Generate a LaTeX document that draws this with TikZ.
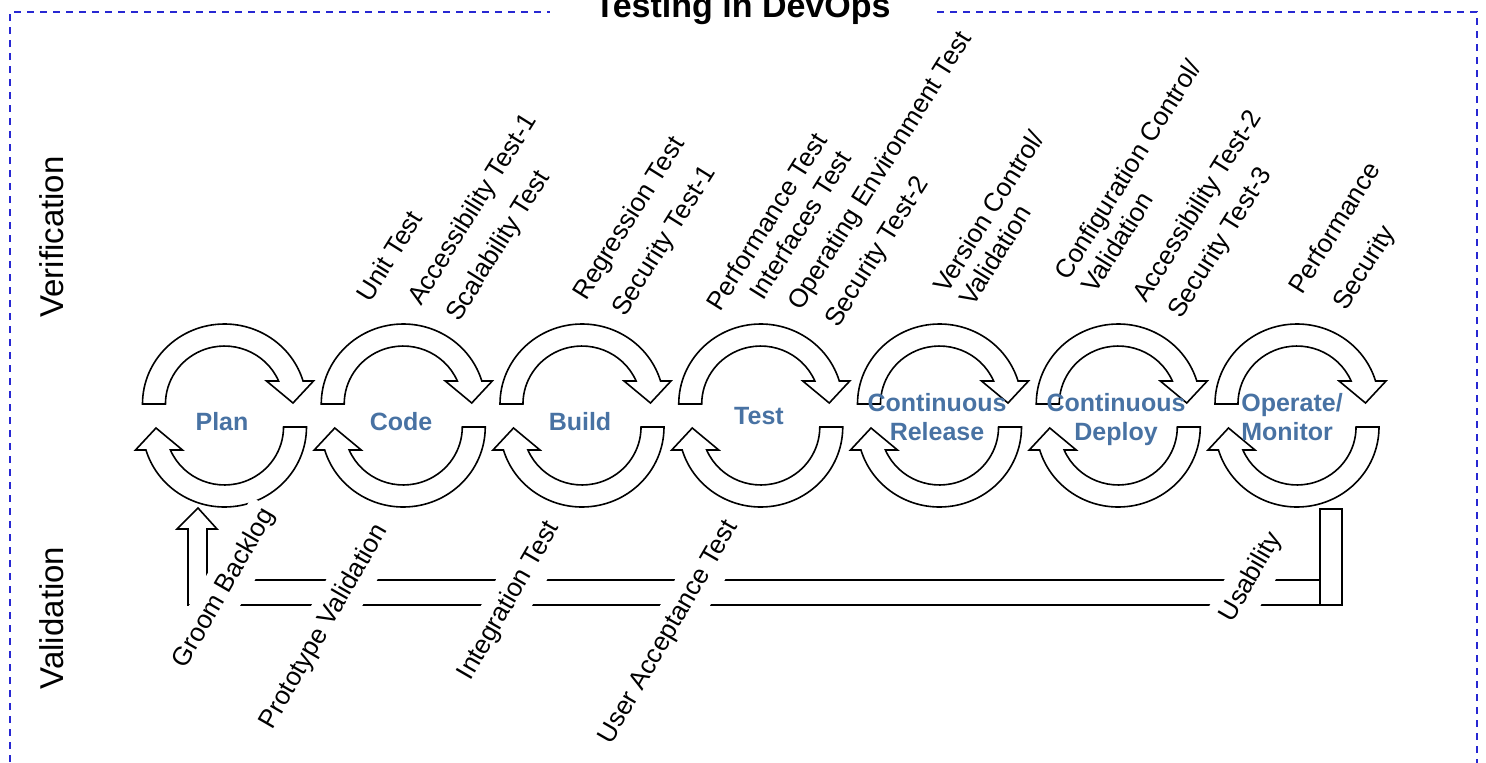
\documentclass[tikz,border=0pt]{standalone}
\usepackage{fontspec}
\setmainfont{Liberation Sans}
\definecolor{frameblue}{RGB}{40,40,210}
\definecolor{labelblue}{RGB}{72,114,163}
\begin{document}
\begin{tikzpicture}[x=1pt,y=-1pt,
  ring/.style={draw=black, fill=white, line width=1.6pt, line join=miter},
  conn/.style={draw=black, line width=1.6pt, line join=miter},
  lab/.style={font=\bfseries\fontsize{25}{29}\selectfont, text=labelblue, inner sep=0pt},
  toptext/.style={rotate=58, anchor=base west, inner sep=0pt, font=\fontsize{26}{30}\selectfont},
  bottext/.style={rotate=60, anchor=base west, fill=white, inner xsep=3pt, inner ysep=10pt, font=\fontsize{26}{30}\selectfont},
  side/.style={rotate=90, inner sep=0pt, font=\fontsize{33}{40}\selectfont}]
\useasboundingbox (0,0) rectangle (1486,763);
% frame
\draw[frameblue, dash pattern=on 7pt off 6pt, line width=1.5pt] (10,775) -- (10,12) -- (1477,12) -- (1477,775);
\node[fill=white, minimum width=385pt, inner ysep=6pt, anchor=base, font=\bfseries\fontsize{34}{40}\selectfont] (title) at (742.5,17) {Testing in DevOps};
% side labels
\node[side] (verif) at (52,237) {Verification};
\node[side] (valid) at (52,618) {Validation};
% cycles
\foreach \i in {0,...,6}{
  \begin{scope}[shift={(224.5+178.75*\i,415.5)}]
    \draw[ring] (-82,-11.5) arc[start angle=180, end angle=343.3, x radius=82, y radius=80]
      -- (89,-34.5) -- (68.5,-12.5) -- (42,-34.5) -- (54.1,-34.5)
      arc[start angle=336.6, end angle=180, x radius=59, y radius=58] -- cycle;
    \draw[ring, rotate=180] (-82,-11.5) arc[start angle=180, end angle=343.3, x radius=82, y radius=80]
      -- (89,-34.5) -- (68.5,-12.5) -- (42,-34.5) -- (54.1,-34.5)
      arc[start angle=336.6, end angle=180, x radius=59, y radius=58] -- cycle;
  \end{scope}
}
% feedback connector
\coordinate (barTL) at (1320,509);
\coordinate (barTR) at (1342,509);
\draw[conn] (1320,580) -- (207,580) -- (207,529) -- (217,529) -- (198,508) -- (177,529) -- (188,529)
  -- (188,605) -- (1342,605) -- (barTR) -- (barTL) -- cycle;
\draw[conn] (1320,580) -- (1320,605);
% validation labels
\node[bottext] (b1) at (184,672) {Groom Backlog};
\node[bottext] (b2) at (271,733) {Prototype Validation};
\node[bottext] (b3) at (469,684) {Integration Test};
\node[bottext] (b4) at (610,748) {User Acceptance Test};
\node[bottext] (b5) at (1231,626) {Usability};
% stage labels
\node[lab, anchor=base] (plan) at (222,430) {Plan};
\node[lab, anchor=base] (code) at (401,430) {Code};
\node[lab, anchor=base] (build) at (580,430) {Build};
\node[lab, anchor=base] (test) at (759,424) {Test};
\node[lab, align=center] (crel) at (937,417.5) {Continuous\\Release};
\node[lab, align=center] (cdep) at (1116,420) {Continuous\\Deploy};
\node[lab, align=left] (opmon) at (1292,417.5) {Operate/\\Monitor};
% verification labels
\node[toptext] (t1) at (370,304) {Unit Test};
\node[toptext] (t2) at (421,307) {Accessibility Test-1};
\node[toptext] (t3) at (459,323) {Scalability Test};
\node[toptext] (t4) at (586,302) {Regression Test};
\node[toptext] (t5) at (625,318) {Security Test-1};
\node[toptext] (t6) at (720,313) {Performance Test};
\node[toptext] (t7) at (763,302) {Interfaces Test};
\node[toptext] (t8) at (801,312) {Operating Environment Test};
\node[toptext] (t9) at (838,329) {Security Test-2};
\node[toptext] (t10) at (947,295) {Version Control/};
\node[toptext] (t11) at (973,308) {Validation};
\node[toptext] (t12) at (1068,282) {Configuration Control/};
\node[toptext] (t13) at (1095,295) {Validation};
\node[toptext] (t14) at (1146,304) {Accessibility Test-2};
\node[toptext] (t15) at (1181,320) {Security Test-3};
\node[toptext] (t16) at (1302,296) {Performance};
\node[toptext] (t17) at (1346,312) {Security};
\end{tikzpicture}
\end{document}
